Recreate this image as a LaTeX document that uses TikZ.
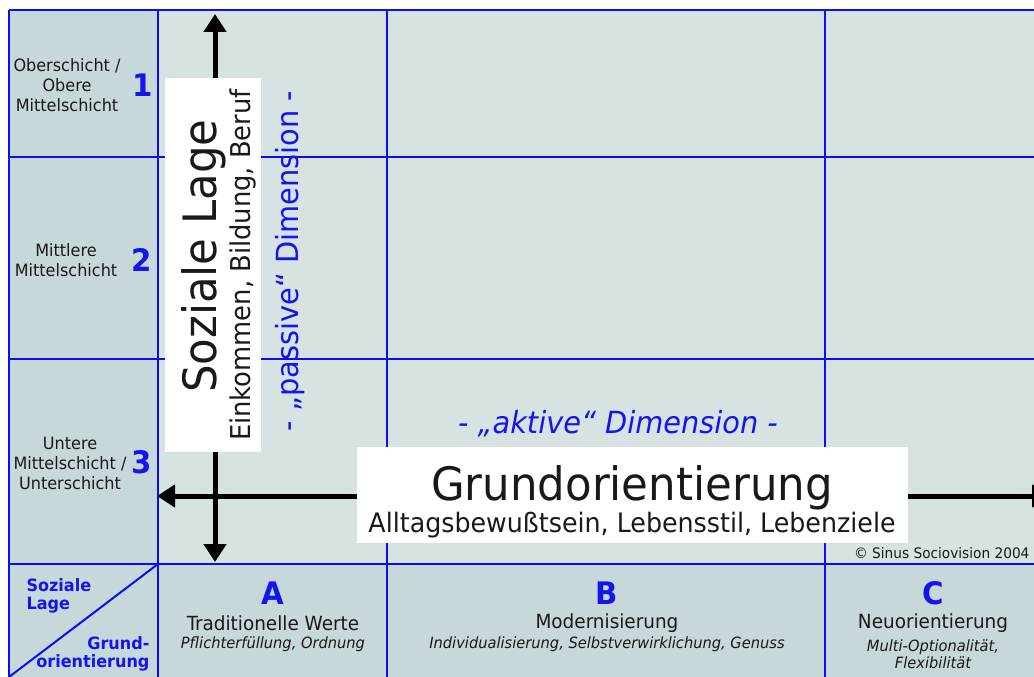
\documentclass[tikz,border=0pt]{standalone}
\usepackage{fontspec}
\setmainfont{DejaVu Sans Condensed}[FakeStretch=1.05]
\usetikzlibrary{arrows.meta}
\definecolor{gridblue}{RGB}{12,12,245}
\definecolor{labelblue}{RGB}{20,20,240}
\definecolor{headfill}{RGB}{198,216,217}
\definecolor{fieldfill}{RGB}{215,227,227}
\definecolor{inktext}{RGB}{25,25,25}
\newcommand{\fsz}[2]{\fontsize{#1}{#2}\selectfont}
\begin{document}
\begin{tikzpicture}[x=1pt,y=-1pt,
  gridline/.style={draw=gridblue, line width=2pt},
  axisline/.style={line width=5pt, {Triangle[length=18pt,width=22pt]}-{Triangle[length=18pt,width=22pt]}},
  whitebox/.style={fill=white, draw=none, inner sep=0pt},
  rowlabel/.style={text=inktext, align=center, font=\fsz{17}{20}},
  rownum/.style={text=labelblue, font=\bfseries\fsz{31}{31}},
  colletter/.style={text=labelblue, font=\bfseries\fsz{31}{31}},
  coltitle/.style={text=inktext, font=\fsz{19.5}{22}},
  colsub/.style={text=inktext, align=center, font=\itshape\fsz{15.5}{17}},
  cornerlabel/.style={text=labelblue, font=\bfseries\fsz{17}{18}},
]
\useasboundingbox (0,0) rectangle (1034,677);

% background fields
\fill[headfill] (9,10) rectangle (158,690);
\fill[headfill] (158,564) rectangle (1050,690);
\fill[fieldfill] (158,10) rectangle (1050,564);

% grid
\draw[gridline] (9,10) -- (1050,10);
\draw[gridline] (9,157) -- (1050,157);
\draw[gridline] (9,359) -- (1050,359);
\draw[gridline] (9,564) -- (1050,564);
\draw[gridline] (9,10) -- (9,690);
\draw[gridline] (158,10) -- (158,690);
\draw[gridline] (387,10) -- (387,690);
\draw[gridline] (825,10) -- (825,690);
\draw[gridline] (158,564) -- (9,677);

% axes
\coordinate (ytop) at (215,14);
\coordinate (ybot) at (215,562);
\coordinate (xleft) at (157,496);
\coordinate (xright) at (1050,496);
\draw[axisline] (ybot) -- (ytop);
\draw[axisline] (xleft) -- (xright);

% axis label boxes
\node[whitebox, minimum width=96pt, minimum height=374pt] (lagebox) at (213,265) {};
\node[whitebox, minimum width=551pt, minimum height=96pt] (grundbox) at (632.5,495) {};

\node[rotate=90, anchor=base, text=inktext, font=\fsz{46}{46}] (lagetitle) at (216,256) {Soziale Lage};
\node[rotate=90, anchor=base, text=inktext, font=\fsz{27.3}{28}] (lagesub) at (250,265) {Einkommen, Bildung, Beruf};
\node[rotate=90, anchor=base, text=labelblue, font=\fsz{30.5}{30}] (passive) at (298,261) {- „passive“ Dimension -};

\node[anchor=base, text=inktext, font=\fsz{46}{46}] (grundtitle) at (632,500) {Grundorientierung};
\node[anchor=base, text=inktext, font=\fsz{26.8}{27}] (grundsub) at (632,532) {Alltagsbewußtsein, Lebensstil, Lebenziele};
\node[anchor=base, text=labelblue, font=\itshape\fsz{30.5}{30}] (aktive) at (618,433) {- „aktive“ Dimension -};

\node[anchor=base east, text=inktext, font=\fsz{14.5}{15}] (copyright) at (1033,558) {© Sinus Sociovision 2004};

% row labels
\node[rowlabel] (row1) at (67,85) {Oberschicht /\\Obere\\Mittelschicht};
\node[rownum] (num1) at (143,85) {1};
\node[rowlabel] (row2) at (66,260) {Mittlere\\Mittelschicht};
\node[rownum] (num2) at (142,260) {2};
\node[rowlabel] (row3) at (70,463) {Untere\\Mittelschicht /\\Unterschicht};
\node[rownum] (num3) at (142,462) {3};

% corner cell
\node[cornerlabel, anchor=west, align=left] (cornerlage) at (23,596) {Soziale\\Lage};
\node[cornerlabel, anchor=east, align=right] (cornergrund) at (153,654) {Grund-\\orientierung};

% column labels
\node[colletter] (letA) at (273,593) {A};
\node[coltitle] (titA) at (273,623) {Traditionelle Werte};
\node[colsub] (subA) at (273,644) {Pflichterfüllung, Ordnung};

\node[colletter] (letB) at (607,593) {B};
\node[coltitle] (titB) at (607,623) {Modernisierung};
\node[colsub] (subB) at (607,644) {Individualisierung, Selbstverwirklichung, Genuss};

\node[colletter] (letC) at (933,593) {C};
\node[coltitle] (titC) at (933,623) {Neuorientierung};
\node[colsub, anchor=north] (subC) at (933,636) {Multi-Optionalität,\\Flexibilität};
\end{tikzpicture}
\end{document}
